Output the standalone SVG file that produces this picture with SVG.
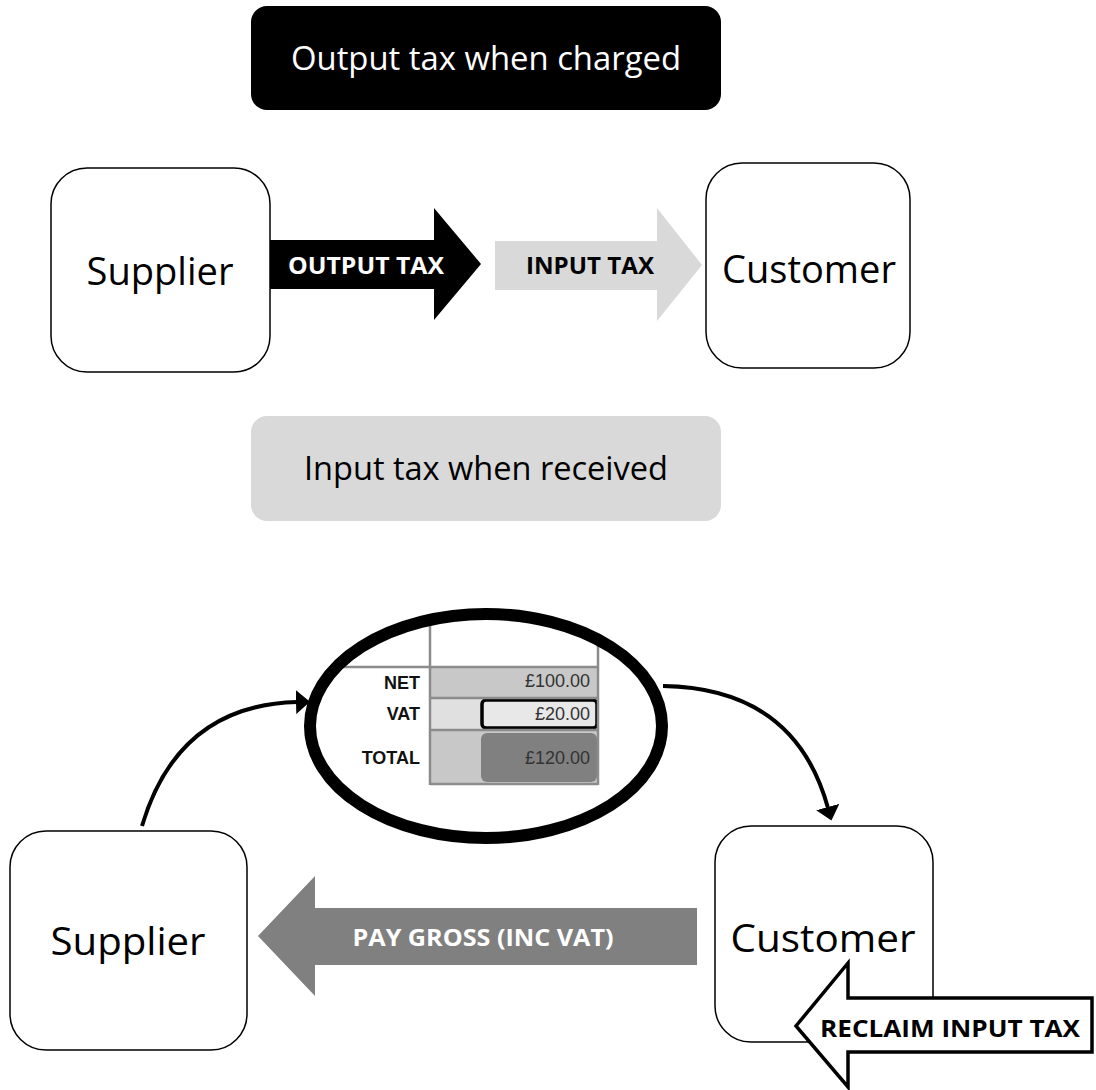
<svg xmlns="http://www.w3.org/2000/svg" width="1096" height="1090" viewBox="0 0 1096 1090">
<style>
.box{fill:#fff;stroke:#000;stroke-width:1.5}
.big{font-family:"Open Sans","Noto Sans",sans-serif;font-size:38px;fill:#000;text-anchor:middle}
.head{font-family:"Open Sans","Noto Sans",sans-serif;font-size:33px;text-anchor:middle}
.lbl{font-family:"Open Sans","Noto Sans",sans-serif;font-weight:bold;font-size:24px;text-anchor:middle}
.tl{font-family:"Liberation Sans",Arial,sans-serif;font-weight:bold;font-size:18px;fill:#111;text-anchor:end}
.tv{font-family:"Liberation Sans",Arial,sans-serif;font-size:18px;fill:#333;text-anchor:end}
.grid{stroke:#8c8c8c;stroke-width:2.5;fill:none}
.conn{fill:none;stroke:#000;stroke-width:4}
</style>
<defs>
<marker id="ah" markerWidth="14" markerHeight="24" refX="1" refY="12" orient="auto" markerUnits="userSpaceOnUse">
<path d="M0,0 L14,12 L0,24 Z" fill="#000"/>
</marker>
</defs>

<g id="title-output">
<rect x="251" y="6" width="470" height="104" rx="16" fill="#000"/>
<text class="head" x="486" y="70" fill="#fff" textLength="390" lengthAdjust="spacingAndGlyphs">Output tax when charged</text>
</g>

<g id="supplier-top">
<rect class="box" x="51" y="168" width="219" height="204" rx="36"/>
<text class="big" x="160" y="285" textLength="147" lengthAdjust="spacingAndGlyphs">Supplier</text>
</g>

<g id="customer-top">
<rect class="box" x="706" y="163" width="204" height="205" rx="36"/>
<text class="big" x="809" y="283" textLength="174" lengthAdjust="spacingAndGlyphs">Customer</text>
</g>

<g id="arrow-output-tax">
<path d="M270,240 L434,240 L434,208 L481,264 L434,320 L434,289 L270,289 Z" fill="#000"/>
<text class="lbl" x="366" y="274" fill="#fff" textLength="156" lengthAdjust="spacingAndGlyphs">OUTPUT TAX</text>
</g>

<g id="arrow-input-tax">
<path d="M495,241 L657,241 L657,208 L702,265 L657,321 L657,290 L495,290 Z" fill="#d9d9d9"/>
<text class="lbl" x="590" y="274" fill="#000" textLength="128" lengthAdjust="spacingAndGlyphs">INPUT TAX</text>
</g>

<g id="title-input">
<rect x="251" y="416" width="470" height="105" rx="16" fill="#d9d9d9"/>
<text class="head" x="486" y="480" fill="#000" textLength="364" lengthAdjust="spacingAndGlyphs">Input tax when received</text>
</g>

<g id="invoice">
<rect x="430" y="667" width="168" height="31" fill="#c8c8c8"/>
<rect x="430" y="698" width="168" height="32" fill="#e0e0e0"/>
<rect x="430" y="730" width="168" height="54" fill="#c8c8c8"/>
<rect x="481" y="733" width="116" height="49" rx="6" fill="#808080"/>
<rect x="482" y="700" width="115" height="28" rx="4" fill="#e8e8e8" stroke="#000" stroke-width="3.5"/>
<path class="grid" d="M430,618 V785 M598,636 V785 M343,667 H598 M430,698 H598 M430,730 H598 M430,784 H598"/>
<text class="tl" x="420" y="689">NET</text>
<text class="tl" x="420" y="720">VAT</text>
<text class="tl" x="420" y="764">TOTAL</text>
<text class="tv" x="590" y="687">£100.00</text>
<text class="tv" x="590" y="720">£20.00</text>
<text class="tv" x="590" y="764" fill="#3a3a3a">£120.00</text>
<ellipse cx="486" cy="726" rx="176" ry="112" fill="none" stroke="#000" stroke-width="12"/>
</g>

<g id="supplier-bottom">
<rect class="box" x="10" y="831" width="237" height="219" rx="36"/>
<text class="big" x="128" y="955" textLength="155" lengthAdjust="spacingAndGlyphs">Supplier</text>
</g>

<g id="customer-bottom">
<rect class="box" x="715" y="826" width="218" height="216" rx="36"/>
<text class="big" x="823" y="952" textLength="185" lengthAdjust="spacingAndGlyphs">Customer</text>
</g>

<g id="arrow-pay-gross">
<path d="M697,908 L315,908 L315,876 L258,936 L315,996 L315,965 L697,965 Z" fill="#808080"/>
<text class="lbl" x="483" y="946" fill="#fff" font-size="25" textLength="261" lengthAdjust="spacingAndGlyphs">PAY GROSS (INC VAT)</text>
</g>

<g id="arrow-reclaim">
<path d="M1092,998 L848,998 L848,963 L796,1026 L848,1087 L848,1052 L1092,1052 Z" fill="#fff" stroke="#000" stroke-width="3.5"/>
<text class="lbl" x="950" y="1037" fill="#000" font-size="25" textLength="260" lengthAdjust="spacingAndGlyphs">RECLAIM INPUT TAX</text>
</g>

<g id="connectors">
<path class="conn" d="M142,826 Q178,705 297,702" marker-end="url(#ah)"/>
<path class="conn" d="M663,686 Q795,688 828,808" marker-end="url(#ah)"/>
</g>
</svg>
